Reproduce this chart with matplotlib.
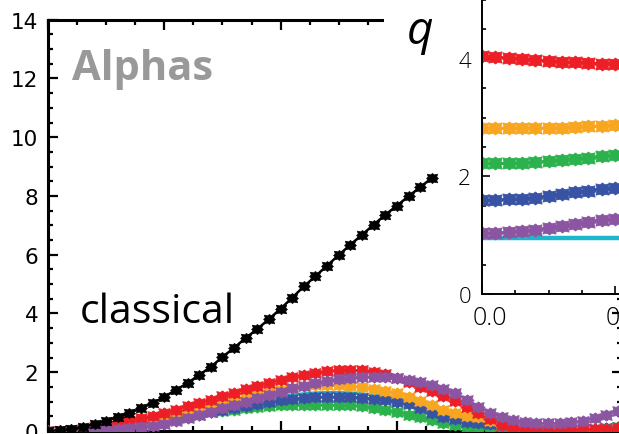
import math
import matplotlib
matplotlib.use("Agg")
import matplotlib.pyplot as plt
from matplotlib.patches import Rectangle
from matplotlib.path import Path
from matplotlib.ticker import MultipleLocator, FormatStrFormatter
from matplotlib.transforms import ScaledTranslation

# ---------------- data (main panel) ----------------
t_classical = [0.0, 0.1, 0.2, 0.3, 0.4, 0.5, 0.6, 0.7, 0.8, 0.9, 1.0, 1.1, 1.2,
               1.3, 1.4, 1.5, 1.6, 1.7, 1.8, 1.9, 2.0, 2.1, 2.2, 2.3, 2.4, 2.5,
               2.6, 2.7, 2.8, 2.9, 3.0, 3.1, 3.2, 3.3]
classical = [0.0, 0.02, 0.06, 0.14, 0.24, 0.34, 0.48, 0.61, 0.78, 0.95, 1.16,
             1.40, 1.63, 1.91, 2.18, 2.52, 2.83, 3.17, 3.47, 3.81, 4.16, 4.54,
             4.92, 5.27, 5.63, 5.99, 6.34, 6.68, 7.02, 7.36, 7.67, 7.99, 8.30, 8.61]

t_q = [0.0, 0.1, 0.2, 0.3, 0.4, 0.5, 0.6, 0.7, 0.8, 0.9, 1.0, 1.1, 1.2, 1.3,
       1.4, 1.5, 1.6, 1.7, 1.8, 1.9, 2.0, 2.1, 2.2, 2.3, 2.4, 2.5, 2.6, 2.7,
       2.8, 2.9, 3.0, 3.1, 3.2, 3.3, 3.4, 3.5, 3.6, 3.7, 3.8, 3.9, 4.0, 4.1,
       4.2, 4.3, 4.4, 4.5, 4.6, 4.7, 4.8, 4.9]
red = [0.0, 0.01, 0.03, 0.07, 0.12, 0.18, 0.26, 0.35, 0.44, 0.52, 0.60, 0.72,
       0.84, 0.95, 1.06, 1.18, 1.29, 1.42, 1.53, 1.63, 1.74, 1.84, 1.91, 1.98,
       2.03, 2.07, 2.08, 2.06, 2.02, 1.94, 1.82, 1.66, 1.50, 1.35, 1.19, 1.02,
       0.82, 0.60, 0.40, 0.22, 0.10, 0.03, 0.0, 0.0, 0.01, 0.02, 0.04, 0.06,
       0.08, 0.10]
orange = [0.0, 0.01, 0.02, 0.05, 0.09, 0.14, 0.20, 0.27, 0.34, 0.42, 0.50,
          0.59, 0.68, 0.78, 0.88, 0.98, 1.08, 1.17, 1.26, 1.34, 1.41, 1.47,
          1.52, 1.55, 1.56, 1.56, 1.54, 1.50, 1.44, 1.37, 1.28, 1.17, 1.03,
          0.88, 0.73, 0.61, 0.52, 0.46, 0.33, 0.20, 0.10, 0.04, 0.01, 0.0,
          0.01, 0.02, 0.03, 0.05, 0.07, 0.09]
green = [0.0, 0.01, 0.02, 0.05, 0.08, 0.12, 0.17, 0.23, 0.29, 0.35, 0.41,
         0.47, 0.53, 0.59, 0.64, 0.69, 0.73, 0.77, 0.81, 0.84, 0.87, 0.88,
         0.89, 0.90, 0.90, 0.89, 0.88, 0.85, 0.79, 0.72, 0.65, 0.56, 0.47,
         0.36, 0.27, 0.20, 0.15, 0.11, 0.08, 0.05, 0.03, 0.02, 0.01, 0.01,
         0.02, 0.03, 0.05, 0.07, 0.09, 0.12]
blue = [0.0, 0.005, 0.02, 0.04, 0.07, 0.10, 0.14, 0.19, 0.24, 0.30, 0.36,
        0.42, 0.49, 0.56, 0.63, 0.70, 0.77, 0.84, 0.91, 0.98, 1.04, 1.09,
        1.13, 1.16, 1.17, 1.17, 1.16, 1.14, 1.10, 1.06, 1.00, 0.91, 0.77,
        0.62, 0.49, 0.40, 0.31, 0.26, 0.23, 0.17, 0.13, 0.10, 0.06, 0.03,
        0.03, 0.04, 0.06, 0.08, 0.11, 0.14]
cyan = [0.0, 0.01, 0.03, 0.06, 0.09, 0.13, 0.18, 0.24, 0.30, 0.37, 0.44,
        0.51, 0.59, 0.67, 0.75, 0.83, 0.91, 0.98, 1.05, 1.12, 1.18, 1.23,
        1.27, 1.30, 1.31, 1.31, 1.30, 1.27, 1.22, 1.16, 1.08, 0.97, 0.82,
        0.66, 0.52, 0.42, 0.33, 0.27, 0.23, 0.17, 0.12, 0.07, 0.04, 0.02,
        0.02, 0.03, 0.05, 0.07, 0.10, 0.13]
purple = [0.0, 0.0, 0.01, 0.02, 0.03, 0.05, 0.07, 0.10, 0.13, 0.17, 0.24,
          0.34, 0.44, 0.54, 0.65, 0.77, 0.87, 0.99, 1.11, 1.21, 1.33, 1.45,
          1.54, 1.63, 1.70, 1.77, 1.81, 1.84, 1.84, 1.84, 1.81, 1.75, 1.67,
          1.55, 1.43, 1.29, 1.07, 0.82, 0.62, 0.48, 0.37, 0.31, 0.27, 0.27,
          0.27, 0.30, 0.35, 0.44, 0.55, 0.68]

# ---------------- data (inset) ----------------
x_in = [0.0, 0.05, 0.10, 0.15, 0.20, 0.25, 0.30, 0.35, 0.40, 0.45, 0.50]
in_red = [4.05, 4.03, 4.01, 4.00, 3.98, 3.97, 3.95, 3.94, 3.93, 3.92, 3.92]
in_orange = [2.82, 2.82, 2.82, 2.82, 2.82, 2.83, 2.83, 2.84, 2.85, 2.86, 2.87]
in_green = [2.22, 2.22, 2.22, 2.23, 2.24, 2.26, 2.28, 2.30, 2.32, 2.34, 2.36]
in_blue = [1.60, 1.60, 1.61, 1.62, 1.64, 1.67, 1.70, 1.73, 1.76, 1.79, 1.81]
in_purple = [1.03, 1.04, 1.05, 1.07, 1.09, 1.12, 1.15, 1.19, 1.23, 1.26, 1.28]
in_cyan_x = [0.0, 1.0]
in_cyan = [0.96, 0.96]

C_RED = "#ED1F26"
C_ORANGE = "#F8A620"
C_GREEN = "#2BB24C"
C_BLUE = "#3853A4"
C_PURPLE = "#8B55A2"
C_CYAN = "#1CB7CC"

W, H = 619, 435
fig = plt.figure(figsize=(W / 100, H / 100), dpi=100)

def fx(px):
    return px / W

def fy(py):
    return 1 - py / H

# notched, blocky asterisk-like marker shape
_verts = []
for k in range(16):
    ang = math.radians(k * 22.5)
    r = 1.0 if k % 2 == 0 else 0.78
    if k % 4 == 2:
        r = 1.22
    _verts.append((r * math.cos(ang), 0.85 * r * math.sin(ang)))
_verts.append(_verts[0])
BLOCK = Path(_verts, closed=True)

# main axes: x 48..622 px, y 0 at 432 px, 14 at 20.7 px
ax = fig.add_axes([fx(48), fy(432), fx(622) - fx(48), fy(20.7) - fy(432)])
ax.set_xlim(0, (622 - 48) / 116.3)
ax.set_ylim(0, 14)
ax.xaxis.set_major_locator(MultipleLocator(1))
ax.xaxis.set_minor_locator(MultipleLocator(0.25))
ax.yaxis.set_major_locator(MultipleLocator(2))
ax.yaxis.set_minor_locator(MultipleLocator(0.5))
for s in ax.spines.values():
    s.set_linewidth(2.2)
ax.tick_params(which="both", direction="in", top=True, right=True,
               labelbottom=False, width=1.6)
ax.tick_params(which="major", length=7, labelsize=15.5, pad=7)
ax.tick_params(which="minor", length=3.6)

mk = dict(marker=BLOCK, markersize=9.5, markeredgewidth=0.6)
ax.plot(t_q, cyan, color=C_CYAN, lw=2.2, zorder=2)
ax.plot(t_q, green, color=C_GREEN, lw=1.5, zorder=3, **mk)
ax.plot(t_q, blue, color=C_BLUE, lw=1.5, zorder=4, **mk)
ax.plot(t_q, orange, color=C_ORANGE, lw=1.5, zorder=5, **mk)
ax.plot(t_q, red, color=C_RED, lw=1.5, zorder=6, **mk)
ax.plot(t_q, purple, color=C_PURPLE, lw=1.5, zorder=7, **mk)
ax.plot(t_classical, classical, color="black", lw=1.8, marker=BLOCK,
        markersize=8.5, markeredgewidth=0.5, zorder=8)

fig.text(fx(72), fy(80), "Alphas", fontsize=30, fontweight="bold",
         color="#999999", family="Open Sans", va="baseline", ha="left")
fig.text(fx(80), fy(323), "classical", fontsize=29.5, color="black",
         family="Open Sans", va="baseline", ha="left")

# white cover over the top spine between main plot and inset
fig.patches.append(Rectangle((fx(384), fy(72)), fx(482) - fx(384), fy(0) - fy(72),
                             transform=fig.transFigure, facecolor="white",
                             edgecolor="none", zorder=1))
fig.text(fx(420), fy(44), "q", fontsize=33, style="italic", family="Open Sans",
         ha="center", va="baseline", zorder=5)

# inset: x 0 at 482 px, 266 px per unit; y 0 at 295 px, 58.8 px per unit
axi = fig.add_axes([fx(482), fy(295), 266 / W, fy(0) - fy(295)], zorder=3)
axi.set_xlim(0, 1.0)
axi.set_ylim(0, 295 / 58.8)
axi.xaxis.set_major_locator(MultipleLocator(0.5))
axi.xaxis.set_minor_locator(MultipleLocator(0.125))
axi.yaxis.set_major_locator(MultipleLocator(2))
axi.yaxis.set_minor_locator(MultipleLocator(0.5))
axi.xaxis.set_major_formatter(FormatStrFormatter("%.1f"))
axi.spines["top"].set_visible(False)
axi.spines["right"].set_visible(False)
for s in ("left", "bottom"):
    axi.spines[s].set_linewidth(1.4)
axi.tick_params(which="both", direction="in", width=1.2)
axi.tick_params(which="major", length=6)
axi.tick_params(which="minor", length=3.2)
axi.tick_params(axis="y", which="major", labelsize=16, pad=8)
axi.tick_params(axis="x", which="major", labelsize=18, pad=8)
shift = ScaledTranslation(8 / 100, 0, fig.dpi_scale_trans)
for lab in axi.get_xticklabels():
    lab.set_family("Open Sans")
    lab.set_fontweight("light")
    lab.set_transform(lab.get_transform() + shift)
for lab in axi.get_yticklabels():
    lab.set_family("Open Sans")
    lab.set_fontweight("light")

mki = dict(marker=BLOCK, markersize=11, markeredgewidth=0.6)
axi.plot(in_cyan_x, in_cyan, color=C_CYAN, lw=3.2, zorder=2)
axi.plot(x_in, in_red, color=C_RED, lw=2, **mki)
axi.plot(x_in, in_orange, color=C_ORANGE, lw=2, **mki)
axi.plot(x_in, in_green, color=C_GREEN, lw=2, **mki)
axi.plot(x_in, in_blue, color=C_BLUE, lw=2, **mki)
axi.plot(x_in, in_purple, color=C_PURPLE, lw=2, **mki)

fig.savefig("out.png", dpi=100)
